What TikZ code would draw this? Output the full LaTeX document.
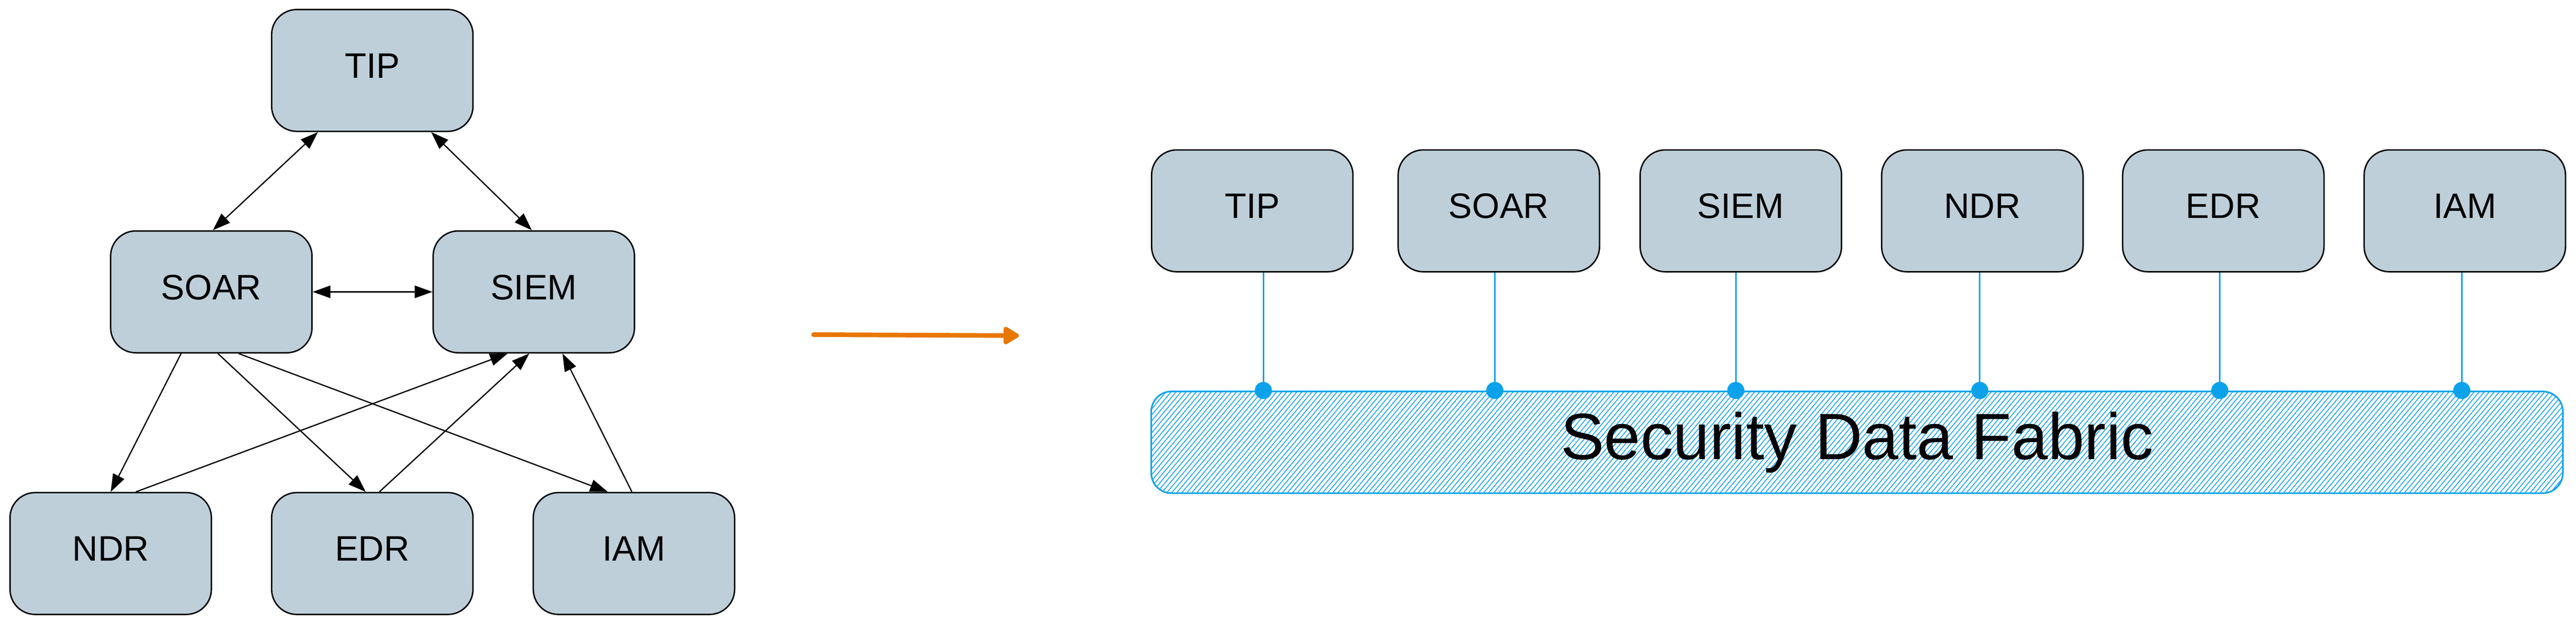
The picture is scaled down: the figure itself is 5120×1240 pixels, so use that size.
\documentclass[tikz,border=0pt]{standalone}
\usepackage{fontspec}
\setmainfont{Liberation Sans}
\usetikzlibrary{arrows.meta,calc}
\definecolor{boxfill}{RGB}{190,207,218}
\definecolor{sdfblue}{RGB}{12,162,235}
\definecolor{arrorange}{RGB}{232,119,0}
\begin{document}
\begin{tikzpicture}[x=0.01cm,y=-0.01cm,
  box/.style={draw=black, line width=0.8pt, fill=boxfill, rounded corners=0.5cm,
    minimum width=4cm, minimum height=2.42cm, inner sep=0pt,
    text height=0.5cm, text depth=0.2cm, font=\fontsize{20}{24}\selectfont},
  link/.style={line width=0.7pt, -{Triangle[length=10pt,width=7pt]}},
  dlink/.style={line width=0.7pt, {Triangle[length=10pt,width=7pt]}-{Triangle[length=10pt,width=7pt]}},
  bigarrow/.style={draw=arrorange, line width=2.6pt, line cap=round,
    -{Triangle[round,length=10pt,width=11pt]}},
  conn/.style={draw=sdfblue, line width=0.9pt},
  dotnode/.style={circle, fill=sdfblue, inner sep=0pt, minimum size=0.34cm},
  fabric/.style={draw=sdfblue, line width=0.9pt, rounded corners=0.4cm,
    minimum width=28.04cm, minimum height=2.02cm, inner sep=0pt,
    font=\fontsize{37}{42}\selectfont,
    path picture={
      \foreach \k in {-18,...,282}
        \draw[sdfblue, line width=0.45pt]
          ($(path picture bounding box.south west)+(\k*10,0)$) -- ++(170,-202);
    }}
]
\useasboundingbox (0,0) rectangle (5120,1240);

% ---------- left: mesh of tools ----------
\node[box] (tip)  at (740,140)  {TIP};
\node[box] (soar) at (420,580)  {SOAR};
\node[box] (siem) at (1061,580) {SIEM};
\node[box] (ndr)  at (220,1100) {NDR};
\node[box] (edr)  at (740,1100) {EDR};
\node[box] (iam)  at (1260,1100) {IAM};

\draw[dlink] ($(soar.north)+(3,0)$) -- ($(tip.south)+(-108,0)$);
\draw[dlink] ($(siem.north)+(-4,0)$) -- ($(tip.south)+(117,0)$);
\draw[dlink] (soar.east) -- (siem.west);
\draw[link] ($(soar.south)+(-60,0)$) -- (ndr.north);
\draw[link] ($(soar.south)+(13,0)$) -- ($(edr.north)+(-13,0)$);
\draw[link] ($(soar.south)+(54,0)$) -- ($(iam.north)+(-52,0)$);
\draw[link] ($(ndr.north)+(50,0)$) -- ($(siem.south)+(-52,0)$);
\draw[link] ($(edr.north)+(14,0)$) -- ($(siem.south)+(-9,0)$);
\draw[link] ($(iam.north)+(-4,0)$) -- ($(siem.south)+(57,0)$);

% ---------- transition arrow ----------
\coordinate (oa) at (1617,665);
\coordinate (ob) at (2025,667);
\draw[bigarrow] (oa) -- (ob);

% ---------- right: security data fabric ----------
\node[box] (rtip)  at (2489,419) {TIP};
\node[box] (rsoar) at (2979,419) {SOAR};
\node[box] (rsiem) at (3460,419) {SIEM};
\node[box] (rndr)  at (3940,419) {NDR};
\node[box] (redr)  at (4419,419) {EDR};
\node[box] (riam)  at (4899,419) {IAM};

\node[fabric] (sdf) at (3691,879) {Security Data Fabric};

\node[dotnode] (d1) at (2511,776) {};
\node[dotnode] (d2) at (2971,776) {};
\node[dotnode] (d3) at (3450,776) {};
\node[dotnode] (d4) at (3935,776) {};
\node[dotnode] (d5) at (4412,776) {};
\node[dotnode] (d6) at (4893,776) {};

\draw[conn] (d1 |- rtip.south)  -- (d1.center);
\draw[conn] (d2 |- rsoar.south) -- (d2.center);
\draw[conn] (d3 |- rsiem.south) -- (d3.center);
\draw[conn] (d4 |- rndr.south)  -- (d4.center);
\draw[conn] (d5 |- redr.south)  -- (d5.center);
\draw[conn] (d6 |- riam.south)  -- (d6.center);
\end{tikzpicture}
\end{document}
